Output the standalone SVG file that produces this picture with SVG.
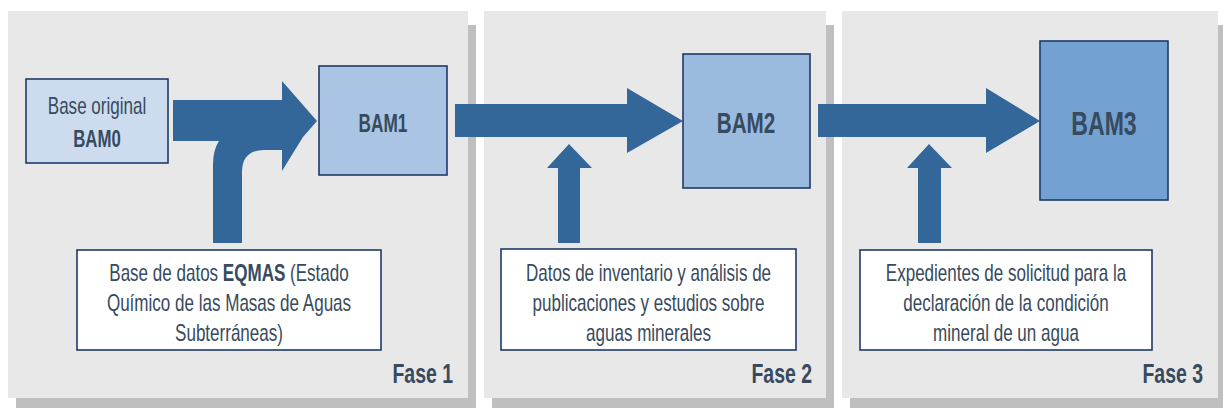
<svg xmlns="http://www.w3.org/2000/svg" width="1223" height="408" viewBox="0 0 1223 408">
<style>
.panel{fill:#e8e8e8}
.shadow{fill:#bfbfbf}
.box{stroke:#1f3a66;stroke-width:1.6}
.src{fill:#ffffff;stroke:#1f3a66;stroke-width:1.6}
.arrow{fill:#336699}
text{font-family:"Liberation Sans",Arial,sans-serif;fill:#374a5e}
.t{font-size:24px;text-anchor:middle}
.b{font-weight:bold}
.fase{font-size:27px;font-weight:bold;text-anchor:end}
</style>
<rect width="1223" height="408" fill="#ffffff"/>
<g id="panels">
  <rect class="shadow" x="16" y="25" width="460" height="387"/>
  <rect class="panel" x="8" y="11" width="460" height="387"/>
  <rect class="shadow" x="492" y="25" width="342" height="387"/>
  <rect class="panel" x="484" y="11" width="342" height="387"/>
  <rect class="shadow" x="850" y="25" width="376" height="387"/>
  <rect class="panel" x="842" y="11" width="376" height="387"/>
  <text class="fase" transform="translate(453,383) scale(0.72,1)">Fase 1</text>
  <text class="fase" transform="translate(812,383) scale(0.72,1)">Fase 2</text>
  <text class="fase" transform="translate(1203,383) scale(0.72,1)">Fase 3</text>
</g>
<g id="connectors">
  <path class="arrow" d="M173,100 L282,100 L282,81 L317,121 L303,137 L282,171 L282,150 L264,150 Q242,150 242,172 L242,243 L213,243 L213,165 Q213,150 219,141 L173,141 Z"/>
  <path class="arrow" d="M455,104 L627,104 L627,88 L683,121 L627,153 L627,137 L455,137 Z"/>
  <path class="arrow" d="M558,243 L558,168 L547,168 L569,144 L592,168 L580,168 L580,243 Z"/>
  <path class="arrow" d="M818,104 L986,104 L986,88 L1040,121 L986,153 L986,137 L818,137 Z"/>
  <path class="arrow" d="M918,243 L918,168 L907,168 L929,144 L952,168 L941,168 L941,243 Z"/>
</g>
<g id="bam0">
  <rect class="box" x="26" y="79" width="142" height="84" fill="#ccdcee"/>
  <text class="t" transform="translate(97,114) scale(0.71,1)">Base original</text>
  <text class="t b" font-size="25" transform="translate(97,147) scale(0.7,1)">BAM0</text>
</g>
<g id="bam1">
  <rect class="box" x="319" y="66" width="128" height="109" fill="#a9c5e3"/>
  <text class="t b" style="font-size:25px" transform="translate(383,132) scale(0.69,1)">BAM1</text>
</g>
<g id="bam2">
  <rect class="box" x="683" y="54" width="127" height="134" fill="#9abbdd"/>
  <text class="t b" style="font-size:30px" transform="translate(746,133) scale(0.69,1)">BAM2</text>
</g>
<g id="bam3">
  <rect class="box" x="1040" y="41" width="128" height="159" fill="#73a1d1"/>
  <text class="t b" style="font-size:33px" transform="translate(1104,135) scale(0.7,1)">BAM3</text>
</g>
<g id="eqmas">
  <rect class="src" x="77" y="250" width="304" height="100"/>
  <text class="t" transform="translate(229,281) scale(0.71,1)"><tspan x="0" y="0">Base de datos <tspan class="b">EQMAS</tspan> (Estado</tspan><tspan x="0" y="30">Químico de las Masas de Aguas</tspan><tspan x="0" y="60">Subterráneas)</tspan></text>
</g>
<g id="inventario">
  <rect class="src" x="501" y="249" width="295" height="101"/>
  <text class="t" transform="translate(648.5,281) scale(0.71,1)"><tspan x="0" y="0">Datos de inventario y análisis de</tspan><tspan x="0" y="30">publicaciones y estudios sobre</tspan><tspan x="0" y="60">aguas minerales</tspan></text>
</g>
<g id="expedientes">
  <rect class="src" x="860" y="250" width="292" height="100"/>
  <text class="t" transform="translate(1006,281) scale(0.71,1)"><tspan x="0" y="0">Expedientes de solicitud para la</tspan><tspan x="0" y="30">declaración de la condición</tspan><tspan x="0" y="60">mineral de un agua</tspan></text>
</g>
</svg>
